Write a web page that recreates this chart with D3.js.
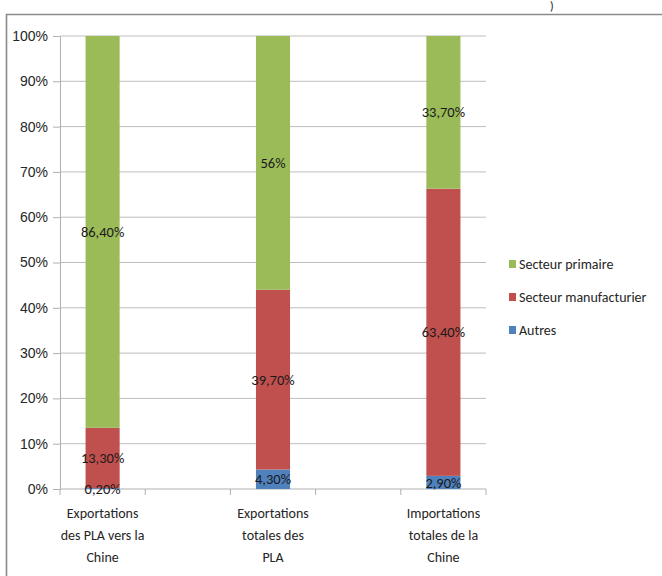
<!DOCTYPE html>
<html>
<head>
<meta charset="utf-8">
<script src="https://cdn.jsdelivr.net/npm/d3@7"></script>
<style>
  body { margin: 0; background: #fff; }
  svg { display: block; font-family: "Liberation Sans Narrow", "Arial Narrow", Calibri, sans-serif; }
</style>
</head>
<body>
<svg id="chart" width="662" height="576"></svg>
<script>
// Categories as in the sheet (blank rows between the three bars)
var categories = ["Exportations\ndes PLA vers la\nChine", "", "Exportations\ntotales des\nPLA", "", "Importations\ntotales de la\nChine"];
var autres        = [0.2, null, 4.3, null, 2.9];
var manufacturier = [13.3, null, 39.7, null, 63.4];
var primaire      = [86.4, null, 56, null, 33.7];

var seriesNames  = ["Autres", "Secteur manufacturier", "Secteur primaire"];
var seriesColors = ["#4f81bd", "#c0504d", "#9bbb59"];
var yTicks = [0, 0.1, 0.2, 0.3, 0.4, 0.5, 0.6, 0.7, 0.8, 0.9, 1];

var svg = d3.select("#chart");

// outer frame of the pasted chart (only top and left edges show)
svg.append("path")
    .attr("d", "M6.5,576V14.5H662")
    .attr("fill", "none")
    .attr("stroke", "#8a8a8a")
    .attr("stroke-width", 1.6);

// bit of text left above the frame
svg.append("text")
    .attr("x", 550).attr("y", 10)
    .attr("font-size", 12)
    .attr("fill", "#222")
    .text(")");

var plotL = 60, plotR = 486, plotT = 36, plotB = 489;

var x = d3.scaleBand()
    .domain(d3.range(categories.length))
    .range([plotL, plotR])
    .paddingInner(0.6)
    .paddingOuter(0.3);

var y = d3.scaleLinear().domain([0, 1]).range([plotB, plotT]);

// gridlines
svg.append("g")
    .selectAll("line")
    .data(yTicks.slice(1))
    .enter().append("line")
    .attr("x1", plotL).attr("x2", plotR)
    .attr("y1", function(d) { return y(d); })
    .attr("y2", function(d) { return y(d); })
    .attr("stroke", "#bdbdbd")
    .attr("stroke-width", 1);

// y axis
var yAxis = svg.append("g")
    .attr("transform", "translate(" + plotL + ",0)")
    .call(d3.axisLeft(y).tickValues(yTicks).tickFormat(d3.format(".0%")).tickSizeInner(7).tickSizeOuter(0).tickPadding(5));
yAxis.select(".domain").attr("stroke", "#b0b0b0");
yAxis.selectAll(".tick line").attr("stroke", "#b0b0b0");
yAxis.selectAll("text")
    .attr("font-size", 14)
    .attr("fill", "#262626")
    .attr("font-family", "inherit");

// x axis line + tick marks at slot boundaries
var step = x.step();
svg.append("line")
    .attr("x1", plotL).attr("x2", plotR)
    .attr("y1", plotB).attr("y2", plotB)
    .attr("stroke", "#b0b0b0");
svg.append("g")
    .selectAll("line")
    .data(d3.range(categories.length + 1))
    .enter().append("line")
    .attr("x1", function(i) { return plotL + i * step; })
    .attr("x2", function(i) { return plotL + i * step; })
    .attr("y1", plotB).attr("y2", plotB + 6)
    .attr("stroke", "#b0b0b0");

// stacked (100%) bars
var rows = categories.map(function(c, i) {
  return { i: i, "Autres": autres[i], "Secteur manufacturier": manufacturier[i], "Secteur primaire": primaire[i] };
}).filter(function(r) { return r["Autres"] != null; });

var stacked = d3.stack().keys(seriesNames).offset(d3.stackOffsetExpand)(rows);

function fmt(v) {
  return (v % 1 === 0 ? v : v.toFixed(2).replace(".", ",")) + "%";
}

var layer = svg.append("g")
    .selectAll("g")
    .data(stacked)
    .enter().append("g")
    .attr("fill", function(d, k) { return seriesColors[k]; });

layer.selectAll("rect")
    .data(function(d) { return d; })
    .enter().append("rect")
    .attr("x", function(d) { return x(d.data.i); })
    .attr("width", x.bandwidth())
    .attr("y", function(d) { return y(d[1]); })
    .attr("height", function(d) { return y(d[0]) - y(d[1]); });

// data labels
stacked.forEach(function(s) {
  svg.append("g")
      .selectAll("text")
      .data(s)
      .enter().append("text")
      .attr("x", function(d) { return x(d.data.i) + x.bandwidth() / 2; })
      .attr("y", function(d) { return y((d[0] + d[1]) / 2); })
      .attr("dy", "0.35em")
      .attr("text-anchor", "middle")
      .attr("font-size", 14.5)
      .attr("fill", "#1a1a1a")
      .text(function(d) { return fmt(d.data[s.key]); });
});

// category labels
categories.forEach(function(c, i) {
  if (!c) return;
  var t = svg.append("text")
      .attr("text-anchor", "middle")
      .attr("font-size", 14)
      .attr("fill", "#262626");
  c.split("\n").forEach(function(line, j) {
    t.append("tspan")
        .attr("x", x(i) + x.bandwidth() / 2)
        .attr("y", 518 + j * 22)
        .text(line);
  });
});

// legend
var legendOrder = [2, 1, 0];
var legend = svg.append("g")
    .selectAll("g")
    .data(legendOrder)
    .enter().append("g")
    .attr("transform", function(k, j) { return "translate(509," + (264 + j * 33) + ")"; });
legend.append("rect")
    .attr("x", 0).attr("y", -4)
    .attr("width", 7).attr("height", 8)
    .attr("fill", function(k) { return seriesColors[k]; });
legend.append("text")
    .attr("x", 10)
    .attr("dy", "0.35em")
    .attr("font-size", 14)
    .attr("fill", "#262626")
    .text(function(k) { return seriesNames[k]; });
</script>
</body>
</html>
